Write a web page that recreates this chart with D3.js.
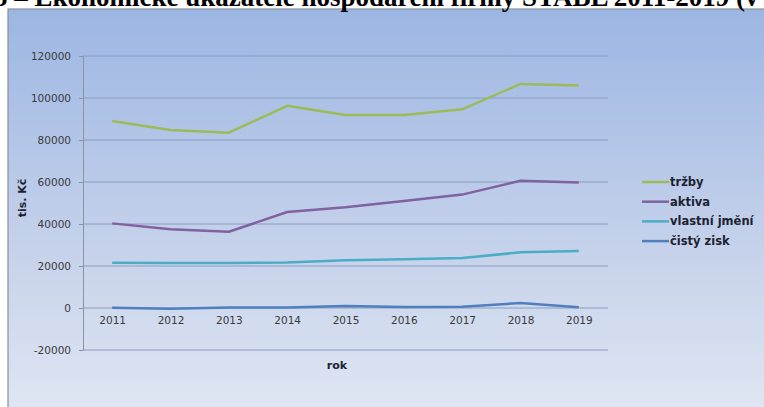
<!DOCTYPE html>
<html lang="cs">
<head>
  <meta charset="UTF-8">
  <title>Ekonomické ukazatele STABL 2011-2019</title>
  <style>
    html, body { margin: 0; padding: 0; background: #fff; }
    svg { display: block; }
    .tick text { font-family: "DejaVu Sans", sans-serif; font-size: 10.5px; fill: #3a3a3a; }
    .legend text { font-family: "DejaVu Sans", sans-serif; font-size: 11.5px; font-weight: bold; fill: #1d2230; }
    .axis-title { font-family: "DejaVu Sans", sans-serif; font-size: 11px; font-weight: bold; fill: #1d2230; }
  </style>
</head>
<body>
  <svg id="chart" width="764" height="407"></svg>

  <script src="https://d3js.org/d3.v7.min.js"></script>
  <script>
    const years = ['2011', '2012', '2013', '2014', '2015', '2016', '2017', '2018', '2019'];
    const trzby = [89000, 84800, 83500, 96300, 91900, 91900, 94600, 106700, 105900];
    const aktiva = [40300, 37500, 36300, 45700, 48000, 51000, 54000, 60600, 59800];
    const vlastniJmeni = [21600, 21400, 21400, 21700, 22700, 23200, 23800, 26500, 27100];
    const cistyZisk = [100, -300, 200, 200, 900, 500, 600, 2400, 300];
    const yTicks = [-20000, 0, 20000, 40000, 60000, 80000, 100000, 120000];

    const series = [
      { name: 'tržby', values: trzby, color: '#9bbb59' },
      { name: 'aktiva', values: aktiva, color: '#7f62a0' },
      { name: 'vlastní jmění', values: vlastniJmeni, color: '#4bacc6' },
      { name: 'čistý zisk', values: cistyZisk, color: '#4f7fbd' }
    ];

    const svg = d3.select('#chart');

    // background gradient of the chart box
    const defs = svg.append('defs');
    const grad = defs.append('linearGradient')
      .attr('id', 'bg').attr('x1', 0).attr('y1', 0).attr('x2', 0).attr('y2', 1);
    grad.append('stop').attr('offset', '0%').attr('stop-color', '#9cb6e3');
    grad.append('stop').attr('offset', '55%').attr('stop-color', '#c3d0ea');
    grad.append('stop').attr('offset', '100%').attr('stop-color', '#e1e7f3');

    svg.append('rect')
      .attr('x', 8).attr('y', 9).attr('width', 770).attr('height', 410)
      .attr('fill', 'url(#bg)')
      .attr('stroke', '#8b8f99').attr('stroke-width', 1.2);

    // title, only its lower part shows at the top of the picture
    svg.append('text')
      .attr('x', -6).attr('y', 6)
      .attr('font-family', '"Liberation Serif", serif')
      .attr('font-weight', 'bold')
      .attr('font-size', 27)
      .attr('fill', '#000')
      .text('5 – Ekonomické ukazatele hospodaření firmy STABL 2011-2019 (v tis. Kč)');

    const plotLeft = 83, plotRight = 608, plotTop = 56, plotBottom = 350;

    const x = d3.scalePoint().domain(years).range([plotLeft, plotRight]).padding(0.5);
    const y = d3.scaleLinear().domain([-20000, 120000]).range([plotBottom, plotTop]);

    // gridlines
    svg.append('g')
      .selectAll('line')
      .data(yTicks)
      .join('line')
      .attr('x1', plotLeft).attr('x2', plotRight)
      .attr('y1', d => y(d)).attr('y2', d => y(d))
      .attr('stroke', '#8a9cc0').attr('stroke-width', 1);

    // y axis
    const yAxis = svg.append('g')
      .attr('transform', `translate(${plotLeft},0)`)
      .call(d3.axisLeft(y).tickValues(yTicks).tickFormat(d => String(d)).tickSize(4).tickPadding(8));
    yAxis.select('.domain').attr('stroke', '#8a94a8');
    yAxis.selectAll('.tick line').attr('stroke', '#8a94a8');

    // x axis at zero
    const xAxis = svg.append('g')
      .attr('transform', `translate(0,${y(0)})`)
      .call(d3.axisBottom(x).tickSize(0).tickPadding(9));
    xAxis.select('.domain').remove();

    // series lines
    const line = d3.line()
      .x((d, i) => x(years[i]))
      .y(d => y(d));

    svg.append('g')
      .selectAll('path')
      .data(series)
      .join('path')
      .attr('d', d => line(d.values))
      .attr('fill', 'none')
      .attr('stroke', d => d.color)
      .attr('stroke-width', 2.5)
      .attr('stroke-linejoin', 'round');

    // axis titles
    svg.append('text')
      .attr('class', 'axis-title')
      .attr('transform', 'translate(26,198) rotate(-90)')
      .attr('text-anchor', 'middle')
      .text('tis. Kč');

    svg.append('text')
      .attr('class', 'axis-title')
      .attr('x', 337).attr('y', 369)
      .attr('text-anchor', 'middle')
      .text('rok');

    // legend
    const legend = svg.append('g')
      .attr('class', 'legend')
      .attr('transform', 'translate(642,182)');

    const item = legend.selectAll('g')
      .data(series)
      .join('g')
      .attr('transform', (d, i) => `translate(0,${i * 19.7})`);

    item.append('line')
      .attr('x1', 0).attr('x2', 27)
      .attr('stroke', d => d.color)
      .attr('stroke-width', 2.5);

    item.append('text')
      .attr('x', 28).attr('dy', '0.35em')
      .text(d => d.name);
  </script>
</body>
</html>
